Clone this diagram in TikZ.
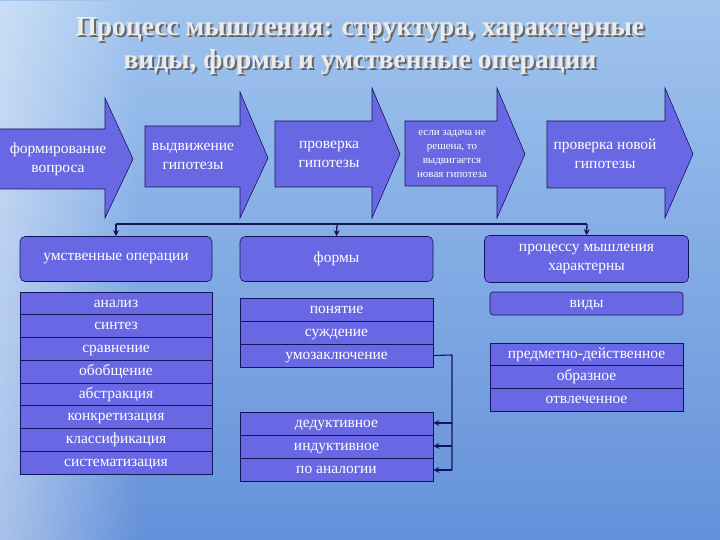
\documentclass[tikz,border=0pt]{standalone}
\usepackage{fontspec}
\setmainfont{Liberation Serif}
\usetikzlibrary{arrows.meta,fadings}
\definecolor{boxc}{RGB}{104,104,228}
\definecolor{edgec}{RGB}{20,20,90}
\definecolor{skyT}{RGB}{160,196,238}
\definecolor{skyB}{RGB}{100,145,218}
\tikzset{
  bx/.style={draw=edgec,fill=boxc,text=white,font=\fontsize{15.5}{18}\selectfont,align=center,inner sep=0pt,line width=0.6pt,text height=10.5pt,text depth=3pt},
  rbx/.style={draw=edgec,fill=boxc,text=white,font=\fontsize{15.5}{19}\selectfont,align=center,inner sep=0pt,line width=0.6pt,rounded corners=5pt},
  arr/.style={draw=edgec,fill=boxc,line width=0.6pt},
  atxt/.style={text=white,align=center,font=\fontsize{15.5}{19}\selectfont},
  conn/.style={draw=edgec,line width=1.3pt},
  tip/.style={-{Stealth[length=6pt,width=6pt]}}
}
\begin{document}
\begin{tikzpicture}[x=1pt,y=-1pt]
\useasboundingbox (0,0) rectangle (720,540);
\begin{scope}
\clip (0,0) rectangle (720,540);
\shade[top color=skyT,bottom color=skyB] (0,0) rectangle (720,540);
\fill[white,path fading=east,opacity=0.45] (0,0) rectangle (140,540);
\end{scope}
% title
\node[text=black!60,font=\fontsize{27.5}{33}\selectfont\bfseries,align=center] at (362,47.5) {Процесс мышления: структура, характерные\\виды, формы и умственные операции};
\node[text=black!8,font=\fontsize{27.5}{33}\selectfont\bfseries,align=center] (title) at (360,45.5) {Процесс мышления: структура, характерные\\виды, формы и умственные операции};
% arrows
\draw[arr] (-1,129) -- (105,129) -- (105,98) -- (133,159) -- (105,218) -- (105,189) -- (-1,189) -- cycle;
\node[atxt] (a1) at (58,159) {формирование\\вопроса};
\draw[arr] (145,126) -- (240,126) -- (240,92) -- (268,158) -- (240,218) -- (240,187) -- (145,187) -- cycle;
\node[atxt] (a2) at (193,156) {выдвижение\\гипотезы};
\draw[arr] (275,121) -- (372,121) -- (372,88) -- (400,154) -- (372,218) -- (372,187) -- (275,187) -- cycle;
\node[atxt] (a3) at (329,154) {проверка\\гипотезы};
\draw[arr] (405,121) -- (497,121) -- (497,88) -- (525,154) -- (497,218) -- (497,186) -- (405,186) -- cycle;
\node[atxt,font=\fontsize{11}{14}\selectfont] (a4) at (452,154) {если задача не\\решена, то\\выдвигается\\новая гипотеза};
\draw[arr] (547,121) -- (665,121) -- (665,88) -- (693,154) -- (665,218) -- (665,188) -- (547,188) -- cycle;
\node[atxt] (a5) at (605,154) {проверка новой\\гипотезы};
% row boxes
\node[rbx,minimum width=192pt,minimum height=45pt] (ops) at (116,259) {умственные операции};
\node[rbx,minimum width=193pt,minimum height=45pt] (forms) at (336.5,259) {формы};
\node[rbx,minimum width=204pt,minimum height=47pt] (char) at (586.5,259) {процессу мышления\\характерны};
\coordinate (j1) at (116,224);
\coordinate (j3) at (587,224);
\draw[conn] (j1) -- (j3);
\draw[conn,tip] (j1) -- (ops.north);
\draw[conn,tip] (337,224) -- (forms.north);
\draw[conn,tip] (j3) -- (char.north);
% left list
\foreach \t [count=\i] in {анализ,синтез,сравнение,обобщение,абстракция,конкретизация,классификация,систематизация}
  \node[bx,minimum width=192pt,minimum height=22.75pt] (L\i) at (116,{292+22.75*(\i-0.5)}) {\t};
% middle
\foreach \t [count=\i] in {понятие,суждение,умозаключение}
  \node[bx,minimum width=193pt,minimum height=23pt] (M\i) at (336.5,{298+23*(\i-0.5)}) {\t};
\foreach \t [count=\i] in {дедуктивное,индуктивное,по аналогии}
  \node[bx,minimum width=193pt,minimum height=23pt] (N\i) at (336.5,{412+23*(\i-0.5)}) {\t};
\coordinate (b1) at (452,355);
\coordinate (b2) at (452,470);
\draw[conn,line width=1.1pt] (M3.east) -- (b1) -- (b2);
\draw[conn,line width=1.1pt,tip] (452,423) -- (N1.east |- 0,423);
\draw[conn,line width=1.1pt,tip] (452,446) -- (N2.east |- 0,446);
\draw[conn,line width=1.1pt,tip] (b2) -- (N3.east |- 0,470);
% right
\node[bx,rounded corners=3pt,minimum width=193pt,minimum height=23pt] (vid) at (586.5,303.5) {виды};
\foreach \t [count=\i] in {предметно-действенное,образное,отвлеченное}
  \node[bx,minimum width=193pt,minimum height=22.7pt] (R\i) at (586.5,{343+22.7*(\i-0.5)}) {\t};
\end{tikzpicture}
\end{document}
